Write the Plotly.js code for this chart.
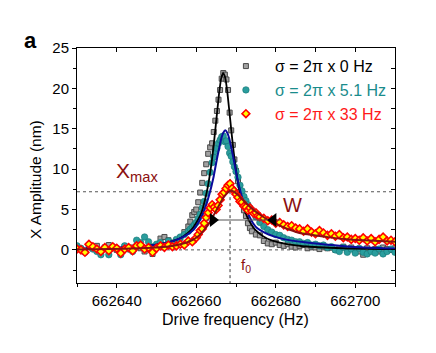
<!DOCTYPE html>
<html>
<head>
<meta charset="utf-8">
<script src="https://cdn.plot.ly/plotly-3.0.1.min.js"></script>
<style>html,body{margin:0;padding:0;background:#fff;}#chart{width:436px;height:353px;}</style>
</head>
<body>
<div id="chart"></div>
<script>
// ---------- data ----------
const seriesNames = ["σ = 2π x 0 Hz", "σ = 2π x 5.1 Hz", "σ = 2π x 33 Hz"];
const xTickVals = [662640, 662660, 662680, 662700];

// sigma = 0 Hz (grey squares)
const grayFreq = [662630,662631,662632,662633,662634,662635,662636,662637,662638,662639,662640,662641,662642,662643,662644,662645,662646,662647,662648,662649,662650,662651,662652,662653,662654,662655,662656,662657,662658,662658.5,662659,662659.5,662660,662660.5,662661,662661.5,662662,662662.5,662663,662663.5,662664,662664.4,662664.8,662665.2,662665.6,662666,662666.4,662666.8,662667.2,662667.6,662668,662668.4,662668.8,662669.2,662669.6,662670,662670.5,662671,662671.5,662672,662672.5,662673,662673.5,662674,662675,662676,662677,662678,662679,662680,662681,662682,662683,662684,662685,662686,662687,662688,662689,662690,662691,662692,662693,662694,662695,662696,662697,662698,662699,662700,662701,662702,662703,662704,662705,662706,662707,662708,662709,662710];
const grayAmp = [0.3,0.1,-0.2,0.4,0.2,0.5,-0.1,0.3,0.6,0.2,0.0,-0.3,0.4,0.1,0.3,0.5,0.2,-0.2,0.1,-0.5,0.4,1.4,1.6,1.2,0.9,1.1,1.5,2.2,2.9,3.5,4.3,4.7,5.0,5.9,7.1,8.3,9.5,10.6,11.9,12.7,13.2,14.6,16.0,17.2,18.6,19.8,21.2,21.9,21.7,21.1,19.8,17.0,14.8,13.0,11.2,9.8,8.5,7.2,5.9,4.9,4.2,3.3,2.7,2.3,1.9,1.8,1.1,0.8,0.7,0.9,0.6,0.5,0.7,0.4,0.3,0.5,0.6,0.2,0.4,0.3,0.1,0.4,0.2,0.3,0.0,0.2,0.4,0.1,0.3,-0.1,-0.2,-0.6,0.2,0.0,0.1,-0.2,0.3,0.1,0.0,0.2];

// sigma = 5.1 Hz (teal circles)
const tealFreq = [662630,662631,662632,662633,662634,662635,662636,662637,662638,662639,662640,662641,662642,662643,662644,662645,662646,662647,662648,662649,662650,662651,662652,662653,662654,662655,662656,662657,662658,662658.5,662659,662659.5,662660,662660.5,662661,662661.5,662662,662662.5,662663,662663.5,662664,662664.4,662664.8,662665.2,662665.6,662666,662666.4,662666.8,662667.2,662667.6,662668,662668.4,662668.8,662669.2,662669.6,662670,662670.5,662671,662671.5,662672,662672.5,662673,662673.5,662674,662675,662676,662677,662678,662679,662680,662681,662682,662683,662684,662685,662686,662687,662688,662689,662690,662691,662692,662693,662694,662695,662696,662697,662698,662699,662700,662701,662702,662703,662704,662705,662706,662707,662708,662709,662710];
const tealAmp = [0.5,0.2,-0.3,0.6,0.1,-0.2,-0.6,0.3,-0.6,0.4,0.2,-0.6,0.5,0.1,-0.2,1.2,0.9,1.6,1.0,0.4,0.7,0.9,0.5,1.1,0.8,1.3,1.6,1.9,2.3,2.6,2.8,3.1,3.4,3.9,4.4,5.2,6.0,7.0,8.2,9.6,10.8,11.5,12.2,12.6,13.2,13.6,14.0,14.1,13.4,13.5,12.8,12.0,11.6,10.9,10.3,9.7,9.0,8.0,7.3,6.6,6.1,5.6,5.2,4.9,4.1,3.4,2.9,2.5,2.2,1.9,1.8,1.5,1.3,1.2,1.0,1.0,0.8,0.9,0.6,0.7,0.5,0.6,0.3,0.4,0.0,-0.2,0.3,-0.3,0.1,-0.4,0.2,-0.3,-0.5,-0.2,-0.4,0.1,-0.5,-0.2,0.1,-0.3];

// sigma = 33 Hz (red/yellow diamonds)
const redFreq = [662630,662631,662632,662633,662634,662635,662636,662637,662638,662639,662640,662641,662642,662643,662644,662645,662646,662647,662648,662649,662650,662651,662652,662653,662654,662655,662656,662657,662658,662659,662660,662660.5,662661,662661.5,662662,662662.5,662663,662663.5,662664,662664.5,662665,662665.5,662666,662666.5,662667,662667.5,662668,662668.5,662669,662669.5,662670,662670.5,662671,662671.5,662672,662672.5,662673,662673.5,662674,662674.5,662675,662675.5,662676,662677,662678,662679,662680,662681,662682,662683,662684,662685,662686,662687,662688,662689,662690,662691,662692,662693,662694,662695,662696,662697,662698,662699,662700,662701,662702,662703,662704,662705,662706,662707,662708,662709,662710];
const redAmp = [0.1,0.0,-0.3,0.7,0.4,0.1,-0.2,0.3,-0.1,0.4,0.2,-0.4,0.1,0.3,-0.1,0.5,0.6,0.1,0.3,-0.3,0.2,0.5,0.3,0.6,0.4,0.5,0.7,0.6,1.1,1.0,1.5,1.9,2.4,2.6,3.3,4.0,4.6,5.2,5.6,5.3,5.0,5.5,6.2,6.9,7.1,7.6,8.0,8.2,7.6,7.3,6.9,6.5,6.0,5.9,5.4,5.3,4.9,5.2,4.8,4.5,4.6,4.2,4.1,3.9,3.6,3.7,3.3,3.4,3.1,2.9,3.0,2.7,2.6,2.3,2.6,2.2,2.0,2.4,2.1,1.8,2.0,1.7,1.9,1.5,1.6,1.3,1.4,1.2,1.5,1.1,1.4,1.0,1.3,1.6,1.1,1.2,1.0];

// fitted curves
const blackFitFreq = [662630,662640,662646.8,662650.8,662654.8,662656.8,662658.8,662660.3,662661.3,662662.3,662663,662663.8,662664.3,662664.8,662665.3,662665.8,662666.3,662666.8,662667.3,662667.8,662668.3,662668.8,662669.3,662669.8,662670.8,662671.8,662672.8,662673.8,662674.8,662676.8,662678.8,662682.8,662686.8,662696.8,662710];
const blackFitAmp = [0.14,0.26,0.45,0.7,1.2,1.7,2.5,3.6,4.6,6.4,8.06,10.6,12.6,14.9,17.3,19.6,21.3,21.9,21.3,19.6,17.3,14.9,12.6,10.6,7.5,5.5,4.1,3.2,2.5,1.7,1.2,0.7,0.45,0.2,0.1];

const blueFitFreq = [662630,662642.3,662647.3,662652.3,662655.3,662657.3,662659.3,662660.3,662661.3,662662.3,662663.3,662664.3,662664.8,662665.3,662665.8,662666.3,662666.8,662667.3,662667.8,662668.3,662668.8,662669.3,662669.8,662670.3,662671.3,662672.3,662673.3,662674.3,662675.3,662677.3,662679.3,662682.3,662687.3,662692.3,662697.3,662702.3,662710];
const blueFitAmp = [0.15,0.32,0.49,0.85,1.3,1.76,2.5,3.2,4.1,5.3,6.9,8.9,10.2,11.5,12.7,13.8,14.5,14.8,14.5,13.8,12.7,11.5,10.2,8.9,6.9,5.3,4.2,3.3,2.7,2.1,1.7,1.3,0.95,0.68,0.45,0.3,0.18];

const redFitFreq = [662630,662638.5,662648.5,662653.5,662656.5,662658.5,662660.5,662662.5,662663.5,662664.5,662665.5,662666.5,662667.5,662668.5,662669.5,662670.5,662671.5,662672.5,662674.5,662676.5,662678.5,662681,662683.5,662686,662688.5,662693.5,662698.5,662703.5,662710];
const redFitAmp = [0.05,0.1,0.25,0.45,0.75,1.1,1.7,2.8,3.5,4.4,5.3,6.2,6.9,7.3,7.2,6.8,6.3,5.8,4.9,4.2,3.6,3.0,2.5,2.1,1.9,1.55,1.3,1.15,1.0];

// annotation quantities
const xMax = 7.2;          // nm, peak of the 33 Hz fit
const f0 = 662668.5;       // Hz, resonance frequency
const halfMax = 3.7;       // nm, level of the width marker
const wLine = [662662.6, 662681.1];      // ends of the W line
const wArrowTips = [662664.2, 662679.4]; // arrowhead positions

// ---------- figure ----------
const FONT = "Arial, 'Liberation Sans', Helvetica, sans-serif";
const darkRed = "#8b1010";

const traces = [
  {x: grayFreq, y: grayAmp, mode: "markers", type: "scatter", name: '<span style="color:#000">' + seriesNames[0] + '</span>',
   marker: {symbol: "square", size: 5, color: "#a2a2a2", line: {color: "#4a4a4a", width: 1}}},
  {x: tealFreq, y: tealAmp, mode: "markers", type: "scatter", name: '<span style="color:#1a8c8c">' + seriesNames[1] + '</span>',
   marker: {symbol: "circle", size: 6.5, color: "#2a9d9d", line: {color: "#157575", width: 0.6}}},
  {x: blackFitFreq, y: blackFitAmp, mode: "lines", type: "scatter", showlegend: false,
   line: {color: "#000", width: 1.8, shape: "spline", smoothing: 0.6}},
  {x: blueFitFreq, y: blueFitAmp, mode: "lines", type: "scatter", showlegend: false,
   line: {color: "#0a0a9a", width: 2, shape: "spline", smoothing: 0.6}},
  {x: redFreq, y: redAmp, mode: "markers", type: "scatter", name: '<span style="color:#ff1a1a">' + seriesNames[2] + '</span>',
   marker: {symbol: "diamond", size: 6, color: "#ffff00", line: {color: "#ff0000", width: 1.6}}},
  {x: redFitFreq, y: redFitAmp, mode: "lines", type: "scatter", showlegend: false,
   line: {color: darkRed, width: 2, shape: "spline", smoothing: 0.6}},
  // width marker: line and inward arrowheads
  {x: wLine, y: [halfMax, halfMax], mode: "lines", type: "scatter", showlegend: false, hoverinfo: "skip",
   line: {color: "#555", width: 1}},
  {x: wArrowTips, y: [halfMax, halfMax], mode: "markers", type: "scatter", showlegend: false, hoverinfo: "skip",
   marker: {symbol: ["triangle-right", "triangle-left"], size: 12, color: "#000", line: {width: 0}}},
  // empty trace to carry the mirrored top/right axes
  {x: [], y: [], xaxis: "x2", yaxis: "y2", type: "scatter", mode: "markers", showlegend: false, hoverinfo: "skip"}
];

const xr = [662630, 662710], yr = [-4.1, 25];

const layout = {
  width: 436, height: 353,
  margin: {l: 77, r: 41, t: 48, b: 70},
  paper_bgcolor: "#fff", plot_bgcolor: "#fff",
  font: {family: FONT, size: 15, color: "#000"},
  showlegend: true,
  legend: {x: 0.44, y: 0.995, xanchor: "left", yanchor: "top", bgcolor: "rgba(0,0,0,0)",
           font: {family: FONT, size: 16}, itemwidth: 48, traceorder: "normal"},
  xaxis: {range: xr, tickvals: xTickVals, ticktext: xTickVals.map(String), ticks: "outside", ticklen: 4, tickwidth: 1,
          tickcolor: "#000", showline: true, linecolor: "#000", linewidth: 1, showgrid: false, zeroline: false,
          minor: {dtick: 10, tick0: 662630, ticks: "outside", ticklen: 3, tickcolor: "#000", showgrid: false},
          tickfont: {size: 15}},
  yaxis: {range: yr, dtick: 5, tick0: 0, ticks: "outside", ticklen: 4, tickwidth: 1, tickcolor: "#000",
          showline: true, linecolor: "#000", linewidth: 1, showgrid: false, zeroline: false,
          minor: {dtick: 2.5, tick0: 0, ticks: "outside", ticklen: 3, tickcolor: "#000", showgrid: false},
          tickfont: {size: 15}},
  xaxis2: {overlaying: "x", side: "top", range: xr, dtick: 10, tick0: 662630, ticks: "inside", ticklen: 4,
           tickcolor: "#000", showticklabels: false, showline: true, linecolor: "#000", linewidth: 1,
           showgrid: false, zeroline: false},
  yaxis2: {overlaying: "y", side: "right", range: yr, dtick: 2.5, tick0: 0, ticks: "inside", ticklen: 4,
           tickcolor: "#000", showticklabels: false, showline: true, linecolor: "#000", linewidth: 1,
           showgrid: false, zeroline: false},
  shapes: [
    {type: "line", xref: "paper", x0: 0, x1: 1, yref: "y", y0: xMax, y1: xMax, layer: "below",
     line: {color: "#555", width: 1, dash: "dot"}},
    {type: "line", xref: "paper", x0: 0, x1: 1, yref: "y", y0: 0, y1: 0, layer: "below",
     line: {color: "#555", width: 1, dash: "dot"}},
    {type: "line", xref: "x", x0: f0, x1: f0, yref: "y", y0: 9.5, y1: yr[0], layer: "below",
     line: {color: "#333", width: 1, dash: "dot"}}
  ],
  annotations: [
    {xref: "x", yref: "y", x: 662639.4, y: 9.6, xanchor: "left", yanchor: "middle", showarrow: false,
     text: "X<sub>max</sub>", font: {family: FONT, size: 21, color: darkRed}},
    {xref: "x", yref: "y", x: 662684.2, y: 5.6, xanchor: "center", yanchor: "middle", showarrow: false,
     text: "W", font: {family: FONT, size: 20, color: darkRed}},
    {xref: "x", yref: "y", x: 662670.8, y: -1.9, xanchor: "left", yanchor: "middle", showarrow: false,
     text: "f<sub>0</sub>", font: {family: FONT, size: 15, color: darkRed}},
    {xref: "paper", yref: "paper", x: -0.145, y: 1.034, xanchor: "center", yanchor: "middle", showarrow: false,
     text: "<b>a</b>", font: {family: FONT, size: 22, color: "#000"}},
    {xref: "paper", yref: "paper", x: -0.132, y: 0.438, xanchor: "center", yanchor: "middle", showarrow: false,
     textangle: -90, text: "X Amplitude (nm)", font: {family: FONT, size: 15.5, color: "#000"}},
    {xref: "paper", yref: "paper", x: 0.497, y: -0.157, xanchor: "center", yanchor: "middle", showarrow: false,
     text: "Drive frequency (Hz)", font: {family: FONT, size: 16, color: "#000"}}
  ]
};

Plotly.newPlot("chart", traces, layout, {displayModeBar: false, staticPlot: true});
</script>
</body>
</html>
